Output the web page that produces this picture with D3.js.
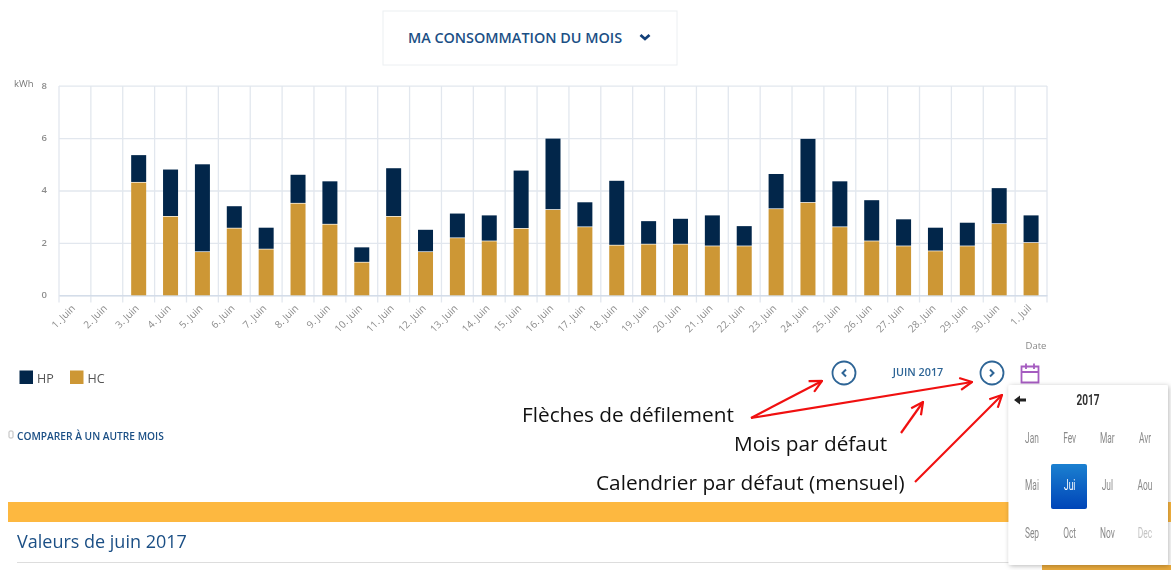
<!DOCTYPE html>
<html lang="fr"><head><meta charset="utf-8">
<script src="https://cdn.jsdelivr.net/npm/d3@7"></script>
<style>
html,body{margin:0;padding:0;background:#fff;overflow:hidden}
svg{display:block;filter:blur(.35px)}
text{font-family:"Open Sans",sans-serif}
</style></head><body>
<svg id="c" width="1171" height="570"></svg>
<script>
const days=["1. Juin","2. Juin","3. Juin","4. Juin","5. Juin","6. Juin","7. Juin","8. Juin","9. Juin","10. Juin","11. Juin","12. Juin","13. Juin","14. Juin","15. Juin","16. Juin","17. Juin","18. Juin","19. Juin","20. Juin","21. Juin","22. Juin","23. Juin","24. Juin","25. Juin","26. Juin","27. Juin","28. Juin","29. Juin","30. Juin","1. Juil"];
const hc=[0,0,4.3,3.0,1.65,2.55,1.75,3.5,2.7,1.25,3.0,1.65,2.18,2.06,2.54,3.26,2.6,1.9,1.94,1.94,1.87,1.87,3.29,3.53,2.6,2.06,1.87,1.68,1.87,2.72,2.0];
const hp=[0,0,1.05,1.8,3.35,0.85,0.83,1.1,1.65,0.58,1.85,0.85,0.94,0.99,2.22,2.72,0.95,2.47,0.89,0.98,1.18,0.77,1.34,2.44,1.75,1.57,1.03,0.9,0.9,1.37,1.05];
const yTicks=[0,2,4,6,8];
const months=["Jan","Fev","Mar","Avr","Mai","Jui","Jul","Aou","Sep","Oct","Nov","Dec"];
const notes=["Flèches de défilement","Mois par défaut","Calendrier par défaut (mensuel)"];

const svg=d3.select("#c");
const defs=svg.append("defs");
const blue="#1b4f85", navy="#02264a", gold="#cd9735", grid="#e2e7ee", lab="#8c8c8c";

const f=defs.append("filter").attr("id","sh").attr("x","-10%").attr("y","-10%").attr("width","125%").attr("height","125%");
f.append("feDropShadow").attr("dx",1).attr("dy",1).attr("stdDeviation",2.5).attr("flood-color","#000").attr("flood-opacity",.28);
const g=defs.append("linearGradient").attr("id","sel").attr("x1",0).attr("y1",0).attr("x2",0).attr("y2",1);
g.append("stop").attr("offset","0").attr("stop-color","#1b80d0");
g.append("stop").attr("offset","1").attr("stop-color","#0045b8");
defs.append("marker").attr("id","arr").attr("viewBox","0 0 14 14").attr("refX",13).attr("refY",7)
  .attr("markerWidth",14).attr("markerHeight",14).attr("markerUnits","userSpaceOnUse").attr("orient","auto")
  .append("path").attr("d","M1,1 L13,7 L1,13").attr("fill","none").attr("stroke","#f01010").attr("stroke-width",2.2);

// Header
svg.append("rect").attr("x",383).attr("y",11).attr("width",294).attr("height",54).attr("fill","#fff").attr("stroke","#eceff2");
svg.append("text").attr("x",515).attr("y",43).attr("text-anchor","middle").attr("font-size",14.4).attr("font-weight",600).attr("fill",blue).text("MA CONSOMMATION DU MOIS");
svg.append("path").attr("d","M640.5,35 L645,39 L649.5,35").attr("fill","none").attr("stroke","#123f78").attr("stroke-width",2.8);

// Chart
const x=d3.scaleBand().domain(days).range([59,1047]);
const y=d3.scaleLinear().domain([0,8]).range([295.3,85.7]);
const gy=svg.append("g").attr("transform","translate(59,0)").call(d3.axisLeft(y).tickValues(yTicks).tickSize(0).tickPadding(12).tickFormat(d3.format("d")));
gy.select(".domain").remove();
gy.selectAll("text").attr("font-size",9.5).attr("font-weight",600).attr("fill",lab).attr("dy","0.25em").style("font-family",'"Open Sans",sans-serif');
gy.selectAll("line").clone().attr("x2",988).attr("stroke",grid).attr("stroke-width",1.3);
const edges=days.map(d=>x(d)).concat([1047]);
svg.append("g").selectAll("line").data(edges).join("line")
  .attr("x1",d=>d).attr("x2",d=>d).attr("y1",86).attr("y2",302.5).attr("stroke",grid).attr("stroke-width",1.3);
const gx=svg.append("g").attr("transform","translate(0,295.3)").call(d3.axisBottom(x).tickSize(0));
gx.select(".domain").attr("stroke","#ccd6e6");
gx.selectAll("text").attr("font-size",10).attr("fill",lab).attr("text-anchor","end").attr("x",0).attr("y",0).attr("dy",0)
  .attr("transform","translate(1,13.5) rotate(-45)")
  .style("font-family",'"Open Sans",sans-serif');
const bw=15;
const row=days.map((d,i)=>({d,hc:hc[i],hp:hp[i]})).filter(r=>r.hc+r.hp>0);
svg.append("g").selectAll("rect").data(row).join("rect")
  .attr("x",r=>x(r.d)+x.bandwidth()/2-bw/2).attr("width",bw)
  .attr("y",r=>y(r.hc)).attr("height",r=>y(0)-y(r.hc)).attr("fill",gold);
svg.append("g").selectAll("rect").data(row).join("rect")
  .attr("x",r=>x(r.d)+x.bandwidth()/2-bw/2).attr("width",bw)
  .attr("y",r=>y(r.hc+r.hp)).attr("height",r=>y(r.hc)-y(r.hc+r.hp)-.7).attr("fill",navy);
svg.append("text").attr("x",14).attr("y",87).attr("font-size",9.5).attr("fill","#777").text("kWh");

// Legend
[["HP",navy,19.5],["HC",gold,70]].forEach(([t,c,lx])=>{
  svg.append("rect").attr("x",lx).attr("y",370.5).attr("width",13.5).attr("height",13.5).attr("fill",c);
  svg.append("text").attr("x",lx+17.5).attr("y",383).attr("font-size",12.5).attr("fill","#555").text(t);
});

// Compare
svg.append("rect").attr("x",9).attr("y",431).attr("width",4).attr("height",7).attr("rx",1).attr("fill","#fff").attr("stroke","#bbb");
svg.append("text").attr("x",17).attr("y",440).attr("font-size",10.2).attr("font-weight",600).attr("fill",blue).text("COMPARER À UN AUTRE MOIS");

// Orange band, title
svg.append("rect").attr("x",8).attr("y",502).attr("width",1163).attr("height",20).attr("fill","#fdb840");
svg.append("rect").attr("x",1042).attr("y",565).attr("width",129).attr("height",5).attr("fill","#e8a93c");
svg.append("text").attr("x",17).attr("y",548).attr("font-size",18).attr("fill",blue).text("Valeurs de juin 2017");
svg.append("line").attr("x1",17).attr("x2",1040).attr("y1",562.5).attr("y2",562.5).attr("stroke","#ddd");

// Navigation
[[844,"M846,369.5 L842.5,373 L846,376.5"],[992,"M990,369.5 L993.5,373 L990,376.5"]].forEach(([cx,p])=>{
  svg.append("circle").attr("cx",cx).attr("cy",373).attr("r",11.5).attr("fill","#fff").attr("stroke","#2e6596").attr("stroke-width",1.8);
  svg.append("path").attr("d",p).attr("fill","none").attr("stroke","#2e6596").attr("stroke-width",2);
});
svg.append("text").attr("x",918).attr("y",375.5).attr("text-anchor","middle").attr("font-size",10.8).attr("font-weight",600).attr("fill","#2e6596").text("JUIN 2017");
svg.append("text").attr("x",1036).attr("y",349).attr("text-anchor","middle").attr("font-size",9.5).attr("fill","#888").text("Date");
svg.append("path").attr("d","M1021.5,366.5 H1038.5 V382.5 H1021.5 Z M1021.5,372 H1038.5 M1026,363.5 V369 M1034,363.5 V369")
  .attr("fill","none").attr("stroke","#a55cc0").attr("stroke-width",1.8);

// Popup
svg.append("rect").attr("x",1008.5).attr("y",385).attr("width",159.5).attr("height",180).attr("rx",2).attr("fill","#fff").attr("filter","url(#sh)");
svg.append("path").attr("d","M1014,400 L1020,395.5 V398.5 H1026 V401.5 H1020 V404.5 Z").attr("fill","#222");
const cond=(sel,sx,cx)=>sel.attr("transform",`translate(${cx*(1-sx)},0) scale(${sx},1)`);
cond(svg.append("text").attr("x",1088).attr("y",405).attr("text-anchor","middle").attr("font-size",14).attr("font-weight",700).attr("fill","#333").style("font-family","Roboto"),.72,1088).text("2017");
svg.append("rect").attr("x",1051).attr("y",464).attr("width",36).attr("height",45).attr("rx",2).attr("fill","url(#sel)");
const cols=d3.scalePoint().domain([0,1,2,3]).range([1032,1145]);
const rows=d3.scalePoint().domain([0,1,2]).range([438,533]);
months.forEach((m,i)=>{
  const cx=cols(i%4), cy=rows(Math.floor(i/4));
  const col=m==="Jui"?"#fff":m==="Dec"?"#c4c4c4":"#8a8a8a";
  cond(svg.append("text").attr("x",cx).attr("y",cy+5).attr("text-anchor","middle").attr("font-size",14).attr("fill",col).style("font-family","Roboto"),.6,cx).text(m);
});

// Annotations
const ax=[[751,418,822,381],[751,418,972,382],[901,433,923,402],[915,482,1002,395]];
svg.append("g").selectAll("line").data(ax).join("line")
  .attr("x1",d=>d[0]).attr("y1",d=>d[1]).attr("x2",d=>d[2]).attr("y2",d=>d[3])
  .attr("stroke","#f01010").attr("stroke-width",2.2).attr("marker-end","url(#arr)");
[[522,422],[734,451],[596,490]].forEach(([nx,ny],i)=>{
  svg.append("text").attr("x",nx).attr("y",ny).attr("font-size",20.8).attr("fill","#111").text(notes[i]);
});
</script></body></html>
